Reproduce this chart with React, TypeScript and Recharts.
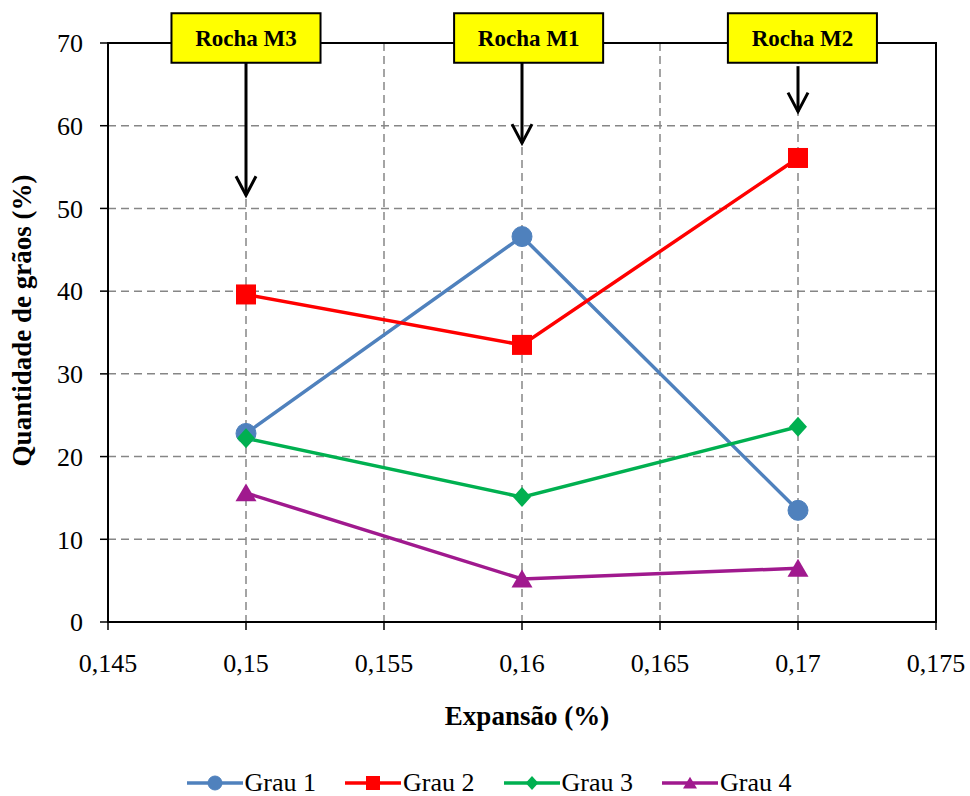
import React from "react";
import {
  LineChart,
  Line,
  XAxis,
  YAxis,
  CartesianGrid,
  Legend,
  ReferenceArea,
  ReferenceLine,
} from "recharts";

const FONT = "'Liberation Serif', 'DejaVu Serif', 'Times New Roman', serif";

// expansão (%) x quantidade de grãos (%)
const EXPANSAO = [0.15, 0.16, 0.17];
const GRAU_1 = [22.8, 46.6, 13.5];
const GRAU_2 = [39.6, 33.5, 56.1];
const GRAU_3 = [22.2, 15.1, 23.6];
const GRAU_4 = [15.6, 5.2, 6.5];

const X_TICKS = [0.145, 0.15, 0.155, 0.16, 0.165, 0.17, 0.175];
const Y_TICKS = [0, 10, 20, 30, 40, 50, 60, 70];

// caixas "Rocha" e setas
const ROCHA_NAMES = ["Rocha M3", "Rocha M1", "Rocha M2"];
const ROCHA_BOX_X = [0.15, 0.16024, 0.17016];
const ROCHA_ARROW_X = [0.15, 0.16, 0.17];
const ROCHA_ARROW_FROM = [67.6, 67.6, 67.2];
const ROCHA_ARROW_TO = [51.6, 57.9, 61.7];

const BOX_HALF = 0.0027;
const BOX_BOTTOM = 67.6;
const BOX_TOP = 73.6;

const SERIES = [
  { key: "g1", name: "Grau 1", color: "#4F81BD", shape: "circle", values: GRAU_1 },
  { key: "g2", name: "Grau 2", color: "#FF0000", shape: "square", values: GRAU_2 },
  { key: "g3", name: "Grau 3", color: "#00B050", shape: "diamond", values: GRAU_3 },
  { key: "g4", name: "Grau 4", color: "#A0198E", shape: "triangle", values: GRAU_4 },
];

const data = EXPANSAO.map((x, i) => ({
  x,
  ...Object.fromEntries(SERIES.map((s) => [s.key, s.values[i]])),
}));

function Marker({ shape, cx, cy, color, size }: any) {
  const h = size / 2;
  if (shape === "circle") {
    return <circle cx={cx} cy={cy} r={h} fill={color} stroke={color} />;
  }
  if (shape === "square") {
    return <rect x={cx - h} y={cy - h} width={size} height={size} fill={color} />;
  }
  if (shape === "diamond") {
    return (
      <polygon
        points={`${cx},${cy - h} ${cx + h * 0.9},${cy} ${cx},${cy + h} ${cx - h * 0.9},${cy}`}
        fill={color}
      />
    );
  }
  return (
    <polygon
      points={`${cx},${cy - h * 0.9} ${cx + h},${cy + h * 0.8} ${cx - h},${cy + h * 0.8}`}
      fill={color}
    />
  );
}

const Arrow = (p: any) => {
  const { x1, y1, x2, y2 } = p;
  return (
    <g>
      <line x1={x1} y1={y1} x2={x2} y2={y2} stroke="#000" strokeWidth={3} />
      <polyline
        points={`${x2 - 10},${y2 - 19} ${x2},${y2} ${x2 + 10},${y2 - 19}`}
        fill="none"
        stroke="#000"
        strokeWidth={3}
      />
    </g>
  );
};

const renderYTitle = (props: any) => {
  const vb = props.viewBox || { x: 0, y: 43, width: 108, height: 579 };
  const cx = 31;
  const cy = vb.y + vb.height / 2 - 12;
  return (
    <text
      x={cx}
      y={cy}
      transform={`rotate(-90, ${cx}, ${cy})`}
      textAnchor="middle"
      fontSize={27}
      fontWeight="bold"
      fontFamily={FONT}
      fill="#000"
    >
      Quantidade de grãos (%)
    </text>
  );
};

const renderXTitle = (props: any) => {
  const vb = props.viewBox || { x: 108, y: 622, width: 828, height: 148 };
  return (
    <text
      x={vb.x + vb.width / 2 + 5}
      y={vb.y + 103}
      textAnchor="middle"
      fontSize={27}
      fontWeight="bold"
      fontFamily={FONT}
      fill="#000"
    >
      Expansão (%)
    </text>
  );
};

const renderLegend = () => (
  <div
    style={{
      display: "flex",
      justifyContent: "center",
      alignItems: "center",
      height: 26,
      paddingLeft: 8,
      fontFamily: FONT,
    }}
  >
    {SERIES.map((s, i) => (
      <div
        key={s.key}
        style={{
          display: "flex",
          alignItems: "center",
          marginRight: i === SERIES.length - 1 ? 0 : 29,
        }}
      >
        <svg width={56} height={20}>
          <line x1={0} x2={56} y1={10} y2={10} stroke={s.color} strokeWidth={3.5} />
          <Marker shape={s.shape} cx={28} cy={10} color={s.color} size={14} />
        </svg>
        <span
          style={{
            fontSize: 26,
            marginLeft: 2,
            color: "#000",
            lineHeight: "26px",
            fontFamily: FONT,
          }}
        >
          {s.name}
        </span>
      </div>
    ))}
  </div>
);

const tickStyle = { fill: "#000", fontSize: 26, fontFamily: FONT };

export default function App() {
  return (
    <div style={{ position: "absolute", left: 0, top: 0, fontFamily: FONT, background: "#fff" }}>
      <LineChart
        width={970}
        height={796}
        data={data}
        margin={{ top: 43, right: 34, left: 0, bottom: 0 }}
        style={{ fontFamily: FONT }}
      >
        <CartesianGrid stroke="#868686" strokeDasharray="8 5" strokeWidth={1.5} />
        <XAxis
          type="number"
          dataKey="x"
          domain={[0.145, 0.175]}
          ticks={X_TICKS}
          interval={0}
          allowDataOverflow
          height={148}
          tickFormatter={(v: number) => String(v).replace(".", ",")}
          tick={tickStyle}
          tickSize={8}
          tickMargin={24}
          axisLine={{ stroke: "#000", strokeWidth: 2 }}
          tickLine={{ stroke: "#000", strokeWidth: 1.5 }}
          label={renderXTitle}
        />
        <YAxis
          type="number"
          domain={[0, 70]}
          ticks={Y_TICKS}
          interval={0}
          allowDataOverflow
          width={108}
          tick={tickStyle}
          tickSize={8}
          tickMargin={17}
          axisLine={{ stroke: "#000", strokeWidth: 2 }}
          tickLine={{ stroke: "#000", strokeWidth: 1.5 }}
          label={renderYTitle}
        />
        <ReferenceArea
          x1={0.145}
          x2={0.175}
          y1={0}
          y2={70}
          fill="none"
          fillOpacity={0}
          stroke="#000"
          strokeWidth={2}
          ifOverflow="visible"
        />
        {ROCHA_NAMES.map((name, i) => (
          <ReferenceLine
            key={"arrow" + i}
            segment={[
              { x: ROCHA_ARROW_X[i], y: ROCHA_ARROW_FROM[i] },
              { x: ROCHA_ARROW_X[i], y: ROCHA_ARROW_TO[i] },
            ]}
            ifOverflow="visible"
            shape={Arrow}
          />
        ))}
        {ROCHA_NAMES.map((name, i) => (
          <ReferenceArea
            key={"box" + i}
            x1={ROCHA_BOX_X[i] - BOX_HALF}
            x2={ROCHA_BOX_X[i] + BOX_HALF}
            y1={BOX_BOTTOM}
            y2={BOX_TOP}
            fill="#FFFF00"
            fillOpacity={1}
            stroke="#000"
            strokeWidth={2}
            ifOverflow="visible"
            label={{
              value: name,
              position: "center",
              fill: "#000",
              fontSize: 23,
              fontWeight: "bold",
              fontFamily: FONT,
            }}
          />
        ))}
        {SERIES.map((s) => (
          <Line
            key={s.key}
            type="linear"
            dataKey={s.key}
            name={s.name}
            stroke={s.color}
            strokeWidth={3.5}
            isAnimationActive={false}
            dot={(p: any) => (
              <Marker
                key={s.key + p.index}
                shape={s.shape}
                cx={p.cx}
                cy={p.cy}
                color={s.color}
                size={s.shape === "triangle" ? 21 : 20}
              />
            )}
            activeDot={false}
          />
        ))}
        <Legend
          verticalAlign="bottom"
          content={renderLegend}
          wrapperStyle={{ left: 0, width: 970, height: 26 }}
        />
      </LineChart>
    </div>
  );
}
